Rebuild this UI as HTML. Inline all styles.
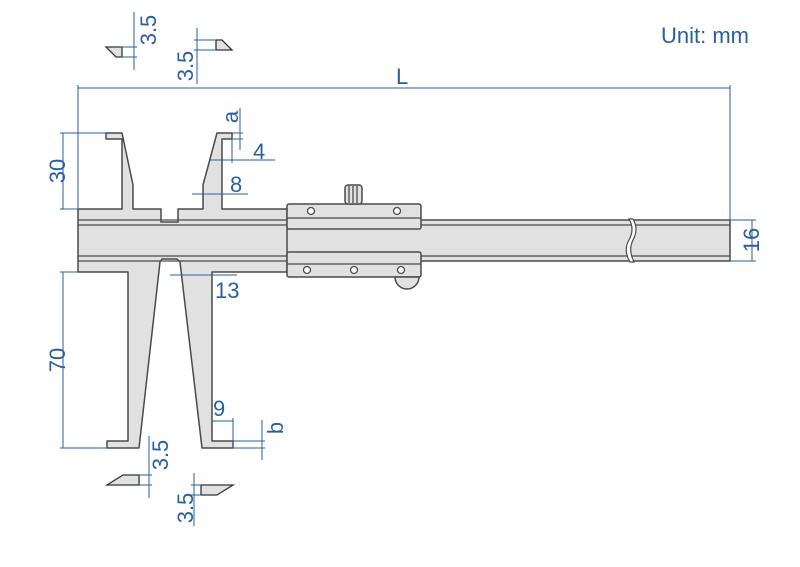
<!DOCTYPE html>
<html><head><meta charset="utf-8"><style>
html,body{margin:0;padding:0;background:#fff;width:800px;height:567px;overflow:hidden}
svg{display:block}
text{font-family:"Liberation Sans",sans-serif;fill:#2a5f9e}
</style></head><body>
<svg width="800" height="567" viewBox="0 0 800 567">
<g fill="#e1e1e1" stroke="#4a4a4a" stroke-width="1.5" stroke-linejoin="round">
<rect x="280" y="220" width="450" height="41"/>
<path d="M78,209 L122,209 L122,139 L106,139 L106,133 L122,133 L133,185 L133,209 L161,209 L161,222 L178,222 L178,209 L203,209 L203,185 L217,133 L232,133 L232,139 L222,139 L222,209 L287,209 L287,272 L212,272 L212,441 L233,441 L233,448 L202,448 L180,262 L177,259 L162,259 L160,262 L139,448 L107,448 L107,441 L128,441 L128,272 L78,272 Z"/>
<rect x="287" y="204" width="134" height="25" rx="2"/>
<rect x="287" y="252" width="134" height="25" rx="2"/>
<path d="M395,277 A12,12 0 0,0 419,277 Z"/>
<rect x="345" y="185" width="17" height="19" rx="3"/>
</g>
<g stroke="#4a4a4a" stroke-width="1.3" fill="none">
<line x1="78" y1="220" x2="287" y2="220"/><line x1="78" y1="225" x2="287" y2="225"/>
<line x1="78" y1="256" x2="287" y2="256"/><line x1="78" y1="261" x2="287" y2="261"/>
<line x1="421" y1="225" x2="730" y2="225"/><line x1="421" y1="256" x2="730" y2="256"/>
<line x1="287" y1="218" x2="421" y2="218"/><line x1="287" y1="264" x2="421" y2="264"/>
<line x1="349" y1="186" x2="349" y2="203"/><line x1="353" y1="186" x2="353" y2="203"/><line x1="357" y1="186" x2="357" y2="203"/>
<circle cx="311" cy="211" r="3.5" fill="#fff"/><circle cx="397" cy="211" r="3.5" fill="#fff"/>
<circle cx="307" cy="270" r="3.5" fill="#fff"/><circle cx="354" cy="270" r="3.5" fill="#fff"/><circle cx="401" cy="270" r="3.5" fill="#fff"/>
</g>
<path d="M629,219 q6,10 0,21 q-6,10 1,22 L634,262 q-6,-12 -1,-22 q6,-11 0,-21 Z" fill="#fff" stroke="#4a4a4a" stroke-width="1.2"/>
<g fill="#e1e1e1" stroke="#333" stroke-width="1.3">
<path d="M106,47 L122,47 L122,57 L116,57 Z"/>
<path d="M216,40 L222,40 L232,50 L216,50 Z"/>
<path d="M107,485 L139,485 L139,475 L123,475 Z"/>
<path d="M201,485 L233,485 L217,495 L201,495 Z"/>
</g>
<g stroke="#2a5f9e" stroke-width="1" fill="none">
<line x1="78" y1="85" x2="78" y2="209"/><line x1="730" y1="85" x2="730" y2="220"/>
<line x1="78" y1="88" x2="730" y2="88"/>
<line x1="60" y1="133" x2="106" y2="133"/><line x1="60" y1="209" x2="78" y2="209"/><line x1="63" y1="133" x2="63" y2="209"/>
<line x1="60" y1="272" x2="78" y2="272"/><line x1="60" y1="448" x2="107" y2="448"/><line x1="63" y1="272" x2="63" y2="448"/>
<line x1="730" y1="220" x2="756" y2="220"/><line x1="730" y1="261" x2="756" y2="261"/><line x1="752" y1="220" x2="752" y2="261"/>
<line x1="134" y1="12" x2="134" y2="70"/><line x1="121" y1="47" x2="137" y2="47"/><line x1="121" y1="57" x2="137" y2="57"/>
<line x1="197" y1="28" x2="197" y2="84"/><line x1="194" y1="40" x2="216" y2="40"/><line x1="194" y1="50" x2="216" y2="50"/>
<line x1="240" y1="108" x2="240" y2="150"/><line x1="232" y1="133" x2="243" y2="133"/><line x1="232" y1="139" x2="243" y2="139"/>
<line x1="232" y1="139" x2="232" y2="163"/><line x1="210" y1="160" x2="275" y2="160"/>
<line x1="192" y1="194" x2="248" y2="194"/>
<line x1="170" y1="275" x2="237" y2="275"/>
<line x1="233" y1="418" x2="233" y2="448"/><line x1="212" y1="421" x2="233" y2="421"/>
<line x1="233" y1="441" x2="265" y2="441"/><line x1="233" y1="448" x2="265" y2="448"/><line x1="262" y1="420" x2="262" y2="460"/>
<line x1="149" y1="436" x2="149" y2="498"/><line x1="139" y1="475" x2="152" y2="475"/><line x1="139" y1="485" x2="152" y2="485"/>
<line x1="194" y1="473" x2="194" y2="526"/><line x1="191" y1="485" x2="201" y2="485"/><line x1="191" y1="495" x2="201" y2="495"/>
</g>
<text x="661" y="43" font-size="22">Unit: mm</text>
<text x="396" y="84" font-size="22">L</text>
<text x="253" y="159" font-size="22">4</text>
<text x="230" y="192" font-size="22">8</text>
<text x="215" y="298" font-size="22">13</text>
<text x="213" y="416" font-size="22">9</text>
<g font-size="22">
<text transform="translate(65,171) rotate(-90)" text-anchor="middle">30</text>
<text transform="translate(65,360) rotate(-90)" text-anchor="middle">70</text>
<text transform="translate(753,240) rotate(-90)" text-anchor="middle" dominant-baseline="middle">16</text>
<text transform="translate(156,30) rotate(-90)" text-anchor="middle">3.5</text>
<text transform="translate(193,66) rotate(-90)" text-anchor="middle">3.5</text>
<text transform="translate(168,455) rotate(-90)" text-anchor="middle">3.5</text>
<text transform="translate(193,508) rotate(-90)" text-anchor="middle">3.5</text>
<text transform="translate(238,117) rotate(-90)" text-anchor="middle">a</text>
<text transform="translate(283,428) rotate(-90)" text-anchor="middle">b</text>
</g>
</svg>
</body></html>
